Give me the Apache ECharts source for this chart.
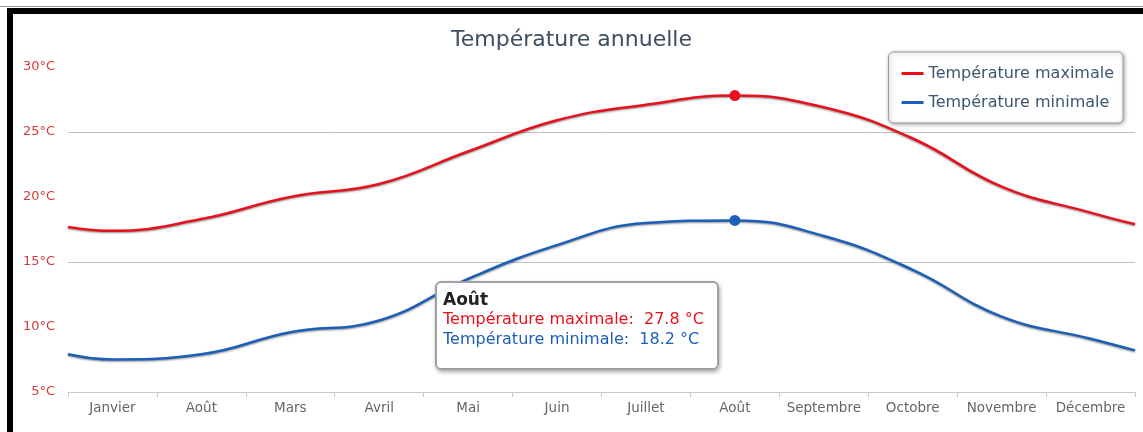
<!DOCTYPE html>
<html>
<head>
<meta charset="utf-8">
<script src="https://cdn.jsdelivr.net/npm/echarts@6/dist/echarts.min.js"></script>
<style>
html,body{margin:0;padding:0;background:#fff;}
#chart{width:1143px;height:432px;}
</style>
</head>
<body>
<div id="chart"></div>
<script>
var months = ['Janvier','Août','Mars','Avril','Mai','Juin','Juillet','Août','Septembre','Octobre','Novembre','Décembre'];
var tempMax = [17.4, 18.3, 20.0, 21.0, 23.5, 25.9, 27.1, 27.8, 26.9, 24.5, 20.8, 18.8];
var tempMin = [7.5, 7.9, 9.6, 10.5, 13.7, 16.3, 18.0, 18.2, 17.0, 14.4, 10.8, 9.1];
// values where the curves meet the left and right plot edges
var tempMaxEdges = [17.7, 17.9];
var tempMinEdges = [7.9, 8.2];
var yTicks = [5, 10, 15, 20, 25, 30];
var seriesNames = ['Température maximale', 'Température minimale'];
var highlightIndex = 7;

var RED = '#e8101c';
var BLUE = '#1c5fb8';

function buildData(vals, edges) {
  var out = [{value: [-0.5, edges[0]], symbol: 'none'}];
  vals.forEach(function (v, i) {
    var item = {value: [i, v], symbol: 'none'};
    if (i === highlightIndex) { item.symbol = 'circle'; item.symbolSize = 11; }
    out.push(item);
  });
  out.push({value: [months.length - 0.5, edges[1]], symbol: 'none'});
  return out;
}

var chart = echarts.init(document.getElementById('chart'), null, {renderer: 'canvas'});
var font = 'DejaVu Sans, sans-serif';

var option = {
  animation: false,
  textStyle: {fontFamily: font},
  title: {
    text: 'Température annuelle',
    left: 'center',
    top: 24,
    textStyle: {fontSize: 22, fontWeight: 'normal', color: '#3E4E62', fontFamily: font}
  },
  legend: {
    orient: 'vertical',
    right: 20,
    top: 52,
    padding: [12, 9, 11, 13],
    itemGap: 10,
    icon: 'rect',
    itemWidth: 22,
    itemHeight: 3,
    backgroundColor: '#fff',
    borderColor: '#9a9a9a',
    borderWidth: 1,
    borderRadius: 5,
    shadowColor: 'rgba(0,0,0,0.35)',
    shadowBlur: 4,
    shadowOffsetX: 1,
    shadowOffsetY: 1,
    textStyle: {fontSize: 16, color: '#3E576F', fontFamily: font, lineHeight: 19},
    data: seriesNames
  },
  grid: {left: 68, right: 8, top: 67, bottom: 40, containLabel: false},
  xAxis: [{
    type: 'category',
    data: months,
    boundaryGap: true,
    axisLine: {lineStyle: {color: '#c8c8c8', width: 1}},
    axisTick: {show: true, interval: 0, length: 5, lineStyle: {color: '#c8c8c8'}},
    axisLabel: {color: '#666', fontSize: 13.5, margin: 9, interval: 0, hideOverlap: false, fontFamily: font}
  }, {
    type: 'value',
    min: -0.5,
    max: months.length - 0.5,
    show: false
  }],
  yAxis: {
    type: 'value',
    min: yTicks[0],
    max: yTicks[yTicks.length - 1],
    interval: 5,
    axisLine: {show: false},
    axisTick: {show: false},
    axisLabel: {color: '#d23a3a', fontSize: 13, margin: 13, formatter: '{value}°C', fontFamily: font},
    splitLine: {show: true, lineStyle: {color: ['#c0c0c0', 'rgba(0,0,0,0)'], width: 1}}
  },
  tooltip: {
    trigger: 'item',
    alwaysShowContent: true,
    triggerOn: 'none',
    position: [435, 281],
    backgroundColor: 'rgba(255,255,255,0.95)',
    borderColor: '#a0a0a0',
    borderWidth: 2,
    padding: [6, 6, 8, 6],
    extraCssText: 'border-radius:6px;box-shadow:1px 2px 4px rgba(0,0,0,0.35);width:268px;height:71px;box-sizing:content-box;',
    formatter: function () {
      var i = highlightIndex;
      return '<div style="font-family:DejaVu Sans, sans-serif;line-height:20px;white-space:nowrap;">' +
        '<div style="font-weight:bold;font-size:17px;color:#222;">' + months[i] + '</div>' +
        '<div style="font-size:16px;color:' + RED + ';">' + seriesNames[0] + ':&nbsp; ' + tempMax[i].toFixed(1) + ' °C</div>' +
        '<div style="font-size:16px;color:' + BLUE + ';">' + seriesNames[1] + ':&nbsp; ' + tempMin[i].toFixed(1) + ' °C</div>' +
        '</div>';
    }
  },
  graphic: [
    {type: 'rect', shape: {x: 0, y: 6, width: 1143, height: 1}, style: {fill: '#999'}, z: 100},
    {type: 'rect', shape: {x: 7, y: 8, width: 1136, height: 6}, style: {fill: '#000'}, z: 100},
    {type: 'rect', shape: {x: 7, y: 8, width: 6, height: 424}, style: {fill: '#000'}, z: 100}
  ],
  series: [{
    name: seriesNames[0],
    type: 'line',
    xAxisIndex: 1,
    smooth: 0.45,
    data: buildData(tempMax, tempMaxEdges),
    color: RED,
    showSymbol: true,
    lineStyle: {width: 2.5, color: RED, shadowColor: 'rgba(0,0,0,0.45)', shadowBlur: 2, shadowOffsetY: 1},
    itemStyle: {color: RED}
  }, {
    name: seriesNames[1],
    type: 'line',
    xAxisIndex: 1,
    smooth: 0.45,
    data: buildData(tempMin, tempMinEdges),
    color: BLUE,
    showSymbol: true,
    lineStyle: {width: 2.5, color: BLUE, shadowColor: 'rgba(0,0,0,0.45)', shadowBlur: 2, shadowOffsetY: 1},
    itemStyle: {color: BLUE}
  }]
};
chart.setOption(option);
chart.dispatchAction({type: 'showTip', seriesIndex: 0, dataIndex: highlightIndex + 1});
</script>
</body>
</html>
